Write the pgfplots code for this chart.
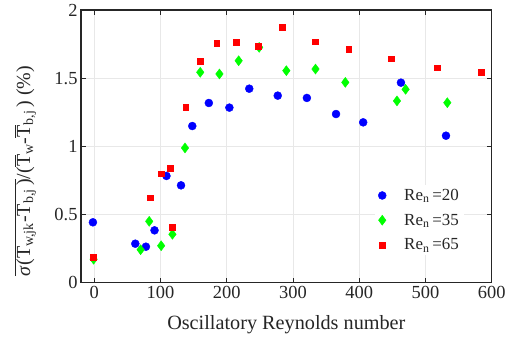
\documentclass[border=0pt]{standalone}
\usepackage{fontspec}
\setmainfont{Liberation Serif}
\usepackage{pgfplots}
\pgfplotsset{compat=1.18}
\definecolor{axgray}{RGB}{38,38,38}
\definecolor{gridgray}{RGB}{232,232,232}

% Re_n = 20
\pgfplotstableread{
x y
-2 0.443
62 0.286
78 0.264
91 0.384
109 0.783
131 0.714
148 1.149
173 1.318
204 1.284
234 1.423
277 1.372
321 1.355
365 1.237
406 1.176
463 1.467
531 1.078
}\reA
% Re_n = 35
\pgfplotstableread{
x y
-1 0.172
70 0.242
83 0.450
101 0.271
118 0.355
137 0.988
160 1.543
189 1.531
218 1.628
249 1.726
290 1.555
334 1.567
379 1.469
457 1.333
470 1.418
533 1.320
}\reB
% Re_n = 65
\pgfplotstableread{
x y
-1 0.186
84 0.623
101 0.800
115 0.839
118 0.406
138 1.289
160 1.626
185 1.756
214 1.763
248 1.736
284 1.873
333 1.768
384 1.712
448 1.643
518 1.577
584 1.545
}\reC

\begin{document}
\begin{tikzpicture}
\begin{axis}[
  name=ax, scale only axis, width=410.7bp, height=272.7bp,
  xmin=-20, xmax=600, ymin=0, ymax=2,
  xtick={0,100,...,600}, ytick={0,0.5,1,1.5,2},
  yticklabels={0,0.5,1,1.5,2},
  tick align=inside, tick pos=both, major tick length=5bp,
  axis line style={axgray, line width=1.4bp},
  every tick/.style={axgray, line width=0.8bp},
  grid=major, major grid style={gridgray, line width=0.9bp},
  /pgf/number format/assume math mode=true,
  tick label style={font=\fontsize{18.5}{20}\selectfont, text=axgray},
  xlabel={Oscillatory Reynolds number},
  xlabel style={font=\fontsize{20.3}{22}\selectfont, text=axgray,
    at={(axis description cs:0.5,-0.173)}, anchor=base},
  ylabel={$\overline{\mbox{\textit{σ}(T\textsubscript{w,jk}-T\textsubscript{b,j}\,)}}$/($\overline{\mbox{T}}$\textsubscript{w}-$\overline{\mbox{T}}$\textsubscript{b,j}\,) (\%)},
  ylabel style={font=\fontsize{20}{22}\selectfont, text=axgray,
    at={(axis description cs:-0.136,0.41)}, anchor=center},
  legend style={draw=none, fill=white, font=\fontsize{17}{20}\selectfont,
    text=axgray, at={(axis description cs:0.716,0.10)}, anchor=south west,
    row sep=8bp},
  legend cell align=left,
]
\addplot[only marks, mark=*, mark size=4.0bp, blue, mark options={fill=blue, draw=none}] table {\reA};
\addlegendentry{\kern16bp Re\textsubscript{n}\,=20}
\addplot[only marks, mark=diamond*, mark size=5.0bp, green, mark options={fill=green, draw=none}] table {\reB};
\addlegendentry{\kern16bp Re\textsubscript{n}\,=35}
\addplot[only marks, mark=square*, mark size=2.9bp, red, mark options={fill=red, draw=none}] table {\reC};
\addlegendentry{\kern16bp Re\textsubscript{n}\,=65}
\end{axis}
\pgfresetboundingbox
\path[use as bounding box] ([xshift=-81bp,yshift=-57.3bp]ax.south west) rectangle ([xshift=22.3bp,yshift=10bp]ax.north east);
\end{tikzpicture}
\end{document}
